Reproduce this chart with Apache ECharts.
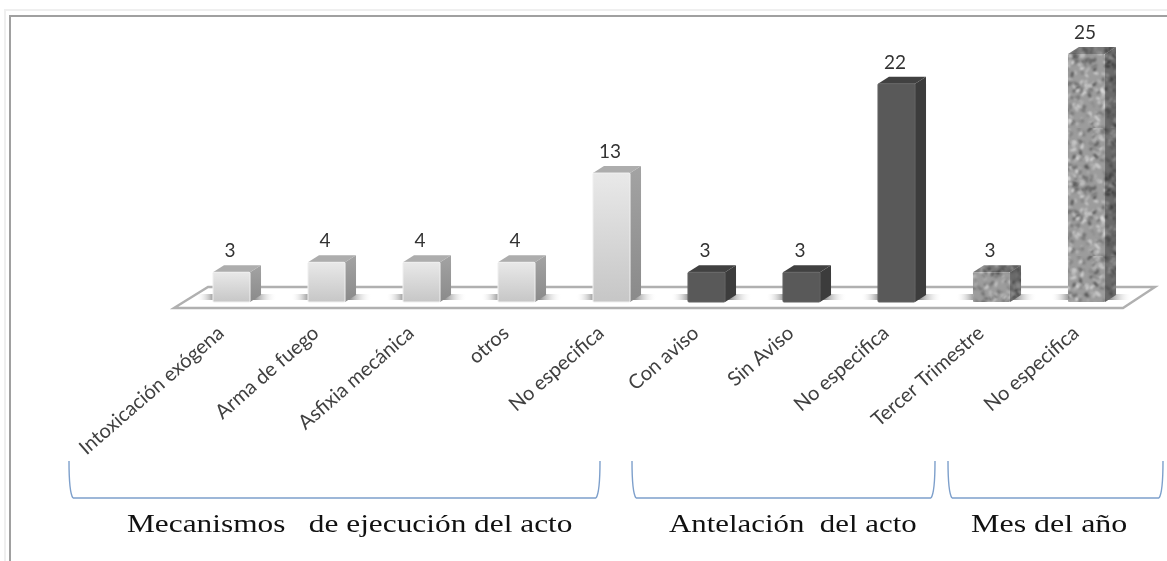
<!DOCTYPE html>
<html lang="es">
<head>
    <meta charset="UTF-8">
    <title>Chart</title>
    <style>
        html, body { margin: 0; padding: 0; background: #fff; }
        #main { width: 1167px; height: 561px; filter: blur(0.55px); }
    </style>
</head>
<body>
<div id="main"></div>
<script src="https://cdn.jsdelivr.net/npm/echarts@6/dist/echarts.min.js"></script>
<script>
    var categories = ['Intoxicación exógena', 'Arma de fuego', 'Asfixia mecánica', 'otros', 'No especifica',
        'Con aviso', 'Sin Aviso', 'No especifica', 'Tercer Trimestre', 'No especifica'];
    var values = [3, 4, 4, 4, 13, 3, 3, 22, 3, 25];
    // 0 = claro, 1 = oscuro, 2 = granito
    var barKinds = [0, 0, 0, 0, 0, 1, 1, 1, 2, 2];
    var groupNames = ['Mecanismos   de ejecución del acto', 'Antelación  del acto', 'Mes del año'];

    var DEPTH_X = 11;
    var DEPTH_Y = 7;

    // textura de granito, sin azar: ruido determinista
    function granite() {
        var size = 128;
        var cv = document.createElement('canvas');
        cv.width = cv.height = size;
        var ctx = cv.getContext('2d');
        ctx.fillStyle = '#9c9c9c';
        ctx.fillRect(0, 0, size, size);
        var seed = 12345;
        function next() {
            seed = (seed * 1103515245 + 12345) & 0x7fffffff;
            return seed / 0x7fffffff;
        }
        var shades = ['#c8c8c8', '#767676', '#d8d8d8', '#858585', '#b8b8b8', '#666666', '#dedede', '#505050'];
        ctx.filter = 'blur(1px)';
        ctx.lineCap = 'round';
        for (var i = 0; i < 800; i++) {
            ctx.strokeStyle = shades[Math.floor(next() * shades.length)];
            ctx.lineWidth = 1 + next() * 1.4;
            var x = next() * size, y = next() * size;
            ctx.beginPath();
            ctx.moveTo(x, y);
            ctx.quadraticCurveTo(x + (next() - 0.5) * 8, y + (next() - 0.5) * 8,
                x + (next() - 0.5) * 7, y + (next() - 0.5) * 7);
            ctx.stroke();
        }
        return cv;
    }
    var graniteTile = granite();

    function vGrad(a, b) {
        return new echarts.graphic.LinearGradient(0, 0, 0, 1, [{offset: 0, color: a}, {offset: 1, color: b}]);
    }

    function barFills(kind) {
        if (kind === 0) {
            return {
                front: vGrad('#e9e9e9', '#c6c6c6'),
                side: vGrad('#a3a3a3', '#8a8a8a'),
                top: '#adadad',
                edge: '#f0f0f0'
            };
        }
        if (kind === 1) {
            return {front: '#595959', side: '#3c3c3c', top: '#414141', edge: '#636363'};
        }
        return {front: {image: graniteTile, repeat: 'repeat'}, side: {image: graniteTile, repeat: 'repeat'}, top: {image: graniteTile, repeat: 'repeat'}, edge: null};
    }

    function renderBar(params, api) {
        var i = api.value(0);
        var v = api.value(1);
        var top = api.coord([i, v]);
        var base = api.coord([i, 0]);
        var w = api.size([1, 0])[0] * 0.39;
        var l = top[0] - w / 2;
        var r = top[0] + w / 2;
        var y0 = top[1];
        var y1 = base[1];
        var f = barFills(barKinds[i]);
        var kids = [
            {
                type: 'rect',
                shape: {x: l - 17, y: y1 - 8, width: w + 44, height: 6, r: 3},
                style: {
                    fill: new echarts.graphic.LinearGradient(0, 0, 1, 0, [
                        {offset: 0, color: 'rgba(255,255,255,0)'},
                        {offset: 0.2, color: 'rgba(120,120,120,0.65)'},
                        {offset: 0.72, color: 'rgba(100,100,100,0.75)'},
                        {offset: 1, color: 'rgba(255,255,255,0)'}
                    ])
                }
            },
            {
                type: 'polygon',
                shape: {points: [[r, y0], [r + DEPTH_X, y0 - DEPTH_Y], [r + DEPTH_X, y1 - DEPTH_Y], [r, y1]]},
                style: {fill: f.side}
            },
            {
                type: 'polygon',
                shape: {points: [[l, y0], [l + DEPTH_X, y0 - DEPTH_Y], [r + DEPTH_X, y0 - DEPTH_Y], [r, y0]]},
                style: {fill: f.top}
            },
            {
                type: 'rect',
                shape: {x: l, y: y0, width: r - l, height: y1 - y0, r: 1},
                style: {fill: f.front, stroke: f.edge, lineWidth: f.edge ? 1 : 0}
            }
        ];
        if (barKinds[i] === 2) {
            // caras lateral y superior mas oscuras
            kids.splice(3, 0, {
                type: 'polygon',
                shape: {points: [[r, y0], [r + DEPTH_X, y0 - DEPTH_Y], [r + DEPTH_X, y1 - DEPTH_Y], [r, y1]]},
                style: {fill: 'rgba(0,0,0,0.32)'}
            }, {
                type: 'polygon',
                shape: {points: [[l, y0], [l + DEPTH_X, y0 - DEPTH_Y], [r + DEPTH_X, y0 - DEPTH_Y], [r, y0]]},
                style: {fill: 'rgba(0,0,0,0.22)'}
            });
        }
        kids.push({
            type: 'text',
            style: {
                text: String(v),
                x: top[0] - 1.5,
                y: y0 - DEPTH_Y - 14,
                align: 'center',
                verticalAlign: 'middle',
                font: '19px Lato',
                fill: '#333'
            }
        });
        return {type: 'group', children: kids};
    }

    var BRACE_STYLE = {fill: 'none', stroke: '#7d9fcb', lineWidth: 1.4};
    function brace(x0, x1) {
        return {
            type: 'group',
            z: 1,
            children: [
                {type: 'bezierCurve', shape: {x1: x0, y1: 461, cpx1: x0, cpy1: 480, cpx2: x0 + 1, cpy2: 494, x2: x0 + 4, y2: 498}, style: BRACE_STYLE},
                {type: 'line', shape: {x1: x0 + 4, y1: 498, x2: x1 - 4, y2: 498}, style: BRACE_STYLE},
                {type: 'bezierCurve', shape: {x1: x1 - 4, y1: 498, cpx1: x1 - 1, cpy1: 494, cpx2: x1, cpy2: 480, x2: x1, y2: 461}, style: BRACE_STYLE}
            ]
        };
    }
    // el original esta estirado a lo ancho
    function groupLabel(name, x, stretch) {
        return {
            type: 'text',
            z: 1,
            x: x,
            y: 525,
            scaleX: stretch,
            style: {
                text: name,
                x: 0,
                y: 0,
                verticalAlign: 'middle',
                font: '26px "Liberation Serif"',
                fill: '#111'
            }
        };
    }

    var myChart = echarts.init(document.getElementById('main'));

    var option = {
        animation: false,
        backgroundColor: '#fff',
        grid: {left: 184, right: 33, top: 54, bottom: 259},
        xAxis: {
            type: 'category',
            data: categories,
            axisLine: {show: false},
            axisTick: {show: false},
            axisLabel: {
                interval: 0,
                rotate: 41,
                margin: 19,
                padding: [0, 14, 0, 0],
                fontFamily: 'Lato',
                fontSize: 20,
                color: '#404040'
            }
        },
        yAxis: {
            type: 'value',
            min: 0,
            max: 25,
            show: false
        },
        graphic: [
            // marco
            {type: 'rect', z: 0, shape: {x: 4, y: 9, width: 1163, height: 2}, style: {fill: '#efefef'}},
            {type: 'rect', z: 0, shape: {x: 4, y: 9, width: 2, height: 552}, style: {fill: '#efefef'}},
            {type: 'rect', z: 0, shape: {x: 9, y: 15, width: 1158, height: 2}, style: {fill: '#a0a0a0'}},
            {type: 'rect', z: 0, shape: {x: 9, y: 15, width: 2, height: 546}, style: {fill: '#a0a0a0'}},
            // suelo
            {
                type: 'polygon',
                z: 0,
                shape: {points: [[174, 308], [208, 287], [1155, 287], [1123, 308]]},
                style: {fill: '#fff', stroke: '#b0b0b0', lineWidth: 2.4}
            },
            brace(69, 600),
            brace(632, 935),
            brace(948, 1163),
            groupLabel(groupNames[0], 127, 1.205),
            groupLabel(groupNames[1], 669, 1.187),
            groupLabel(groupNames[2], 971, 1.23)
        ],
        series: [
            {
                type: 'custom',
                renderItem: renderBar,
                clip: false,
                encode: {x: 0, y: 1},
                data: values.map(function (v, i) { return [i, v]; })
            }
        ]
    };

    myChart.setOption(option);
</script>
</body>
</html>
